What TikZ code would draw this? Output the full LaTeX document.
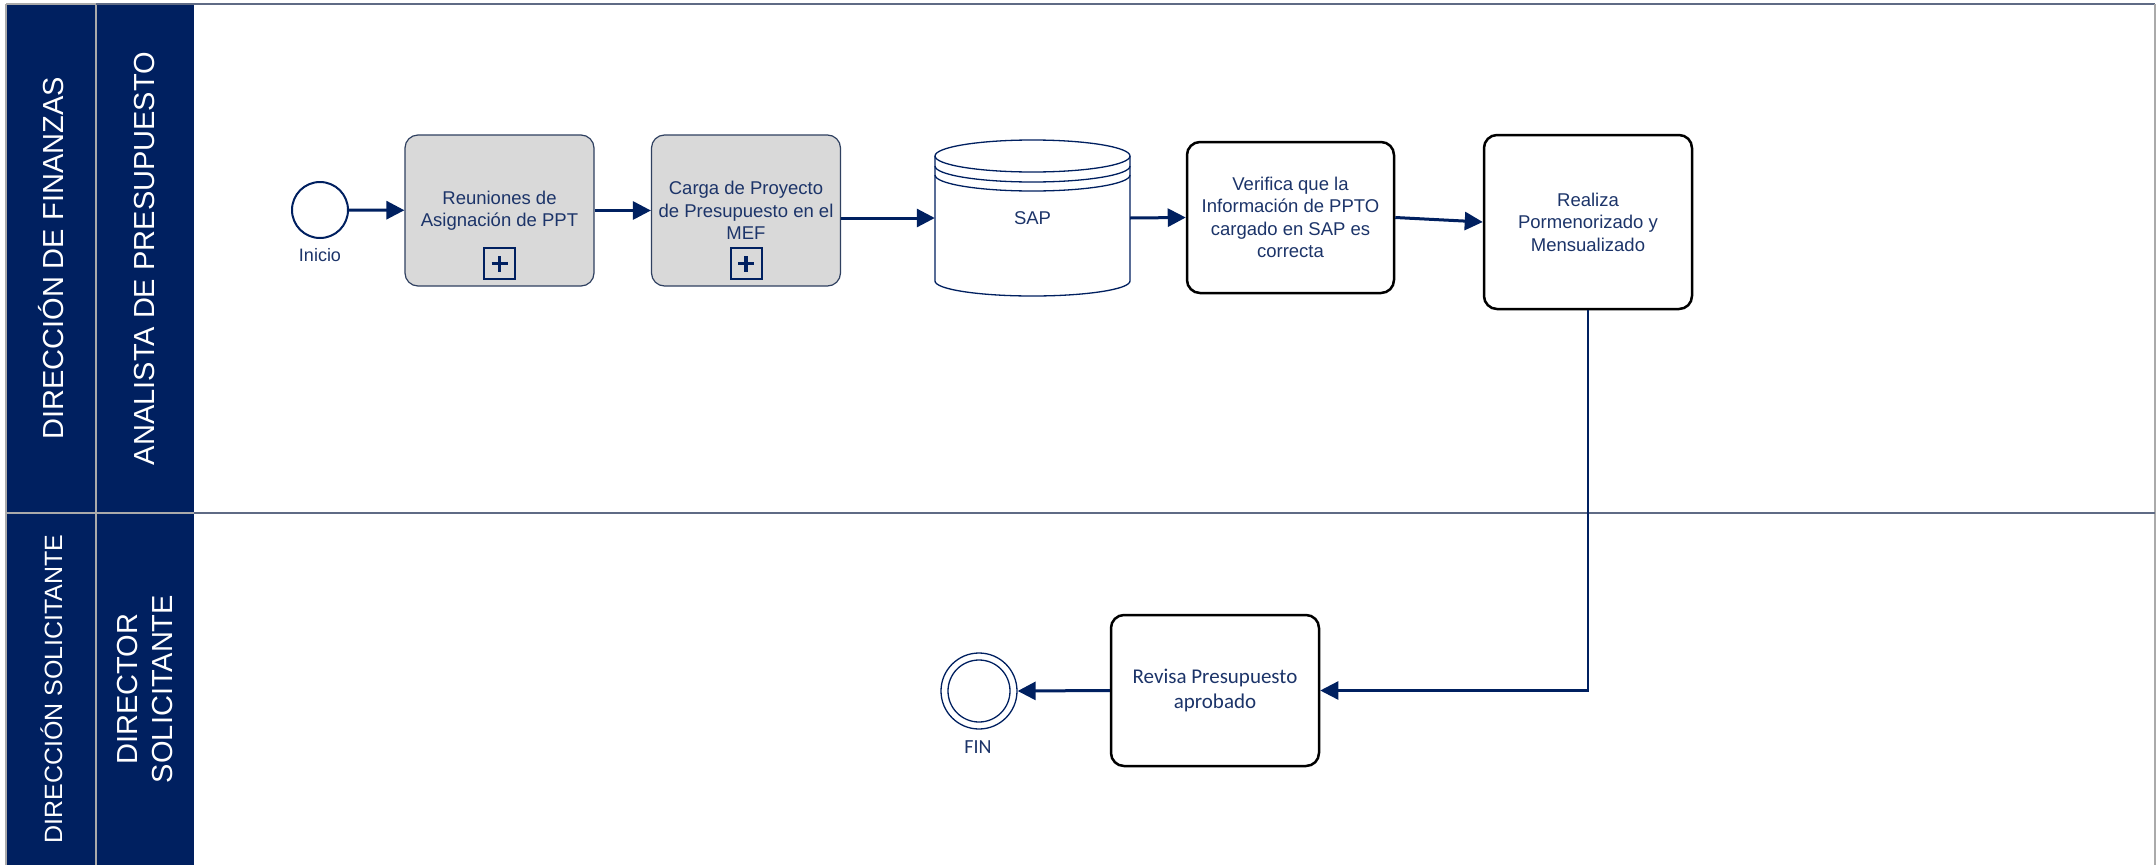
\documentclass[tikz,border=0pt]{standalone}
\usepackage{fontspec}
\setmainfont{Liberation Sans}
\newfontfamily\calib{Carlito}
\usetikzlibrary{arrows.meta}
\definecolor{navy}{RGB}{0,32,96}
\definecolor{txtblue}{RGB}{28,52,105}
\definecolor{boxgray}{RGB}{217,217,217}
\definecolor{graybord}{RGB}{47,64,96}
\definecolor{divline}{RGB}{95,107,133}
\definecolor{sepgray}{RGB}{170,170,170}
\tikzset{
  arr/.style={draw=navy, line width=3pt, -{Triangle[length=18pt,width=18pt]}},
  arrthin/.style={draw=navy, line width=2.4pt, -{Triangle[length=18pt,width=18pt]}},
  graybox/.style={draw=graybord, fill=boxgray, line width=1.2pt, rounded corners=13pt,
    minimum width=189pt, minimum height=151pt, inner sep=0pt, align=center,
    text=txtblue, font=\fontsize{18.5}{22.5}\selectfont},
  whitebox/.style={draw=black, fill=white, line width=2.5pt, rounded corners=13pt,
    inner sep=0pt, align=center, text=txtblue, font=\fontsize{18.5}{22.5}\selectfont},
  hdrtext/.style={rotate=90, text=white, align=center, inner sep=0pt},
  cyl/.style={draw=navy, line width=1.3pt},
  plusbox/.style={draw=navy, line width=2pt, minimum size=31pt, inner sep=0pt, fill=boxgray},
  lbl/.style={text=txtblue, inner sep=0pt}
}
\begin{document}
\begin{tikzpicture}[x=1pt,y=-1pt]
\useasboundingbox (0,0) rectangle (2156,865);
\fill[white] (0,0) rectangle (2156,865);
% lanes
\fill[navy] (7,4) rectangle (194,865);
\draw[sepgray, line width=1.5pt] (6,4) -- (6,865);
\draw[sepgray, line width=1.5pt] (6,4) -- (96,4);
\draw[sepgray, line width=1.5pt] (96,4) -- (96,865);
\draw[sepgray, line width=1.5pt] (7,513) -- (194,513);
\draw[divline, line width=1.2pt] (96,4) -- (2155,4);
\draw[sepgray, line width=1.5pt] (2155,4) -- (2155,865);
\draw[divline, line width=2pt] (194,513) -- (2155,513);
% lane headers
\node[hdrtext, font=\fontsize{29}{35}\selectfont] (h1) at (51.5,258.5) {DIRECCIÓN DE FINANZAS};
\node[hdrtext, font=\fontsize{29}{35}\selectfont] (h2) at (145,258.5) {ANALISTA DE PRESUPUESTO};
\node[hdrtext, font=\fontsize{25}{30}\selectfont] (h3) at (51.5,689) {DIRECCIÓN SOLICITANTE};
\node[hdrtext, font=\fontsize{29}{35}\selectfont] (h4) at (145,689) {DIRECTOR\\SOLICITANTE};
% start
\node[circle, draw=navy, line width=2pt, fill=white, minimum size=56pt, inner sep=0pt] (start) at (320,210) {};
\node[lbl, font=\fontsize{18}{22}\selectfont] (startlbl) at (320,255) {Inicio};
% subprocesses
\node[graybox] (r1) at (499.5,210.5) {Reuniones de\\Asignación de PPT};
\node[plusbox] (p1) at (499.5,263.5) {};
\draw[navy, line width=3.5pt] ([xshift=-8pt]p1.center) -- ([xshift=8pt]p1.center);
\draw[navy, line width=3.5pt] ([yshift=-8pt]p1.center) -- ([yshift=8pt]p1.center);
\node[graybox] (r2) at (746,210.5) {Carga de Proyecto\\de Presupuesto en el\\MEF};
\node[plusbox] (p2) at (746,263.5) {};
\draw[navy, line width=3.5pt] ([xshift=-8pt]p2.center) -- ([xshift=8pt]p2.center);
\draw[navy, line width=3.5pt] ([yshift=-8pt]p2.center) -- ([yshift=8pt]p2.center);
% SAP datastore
\draw[cyl] (935,156) -- (935,281) arc[start angle=180, end angle=360, x radius=97.5pt, y radius=15pt] -- (1130,156);
\draw[cyl] (1032.5,156) ellipse [x radius=97.5pt, y radius=16pt];
\draw[cyl] (935,166) arc[start angle=180, end angle=360, x radius=97.5pt, y radius=16pt];
\draw[cyl] (935,175) arc[start angle=180, end angle=360, x radius=97.5pt, y radius=16pt];
\node[minimum width=195pt, minimum height=156pt, inner sep=0pt, text=txtblue, font=\fontsize{18.5}{22.5}\selectfont] (sap) at (1032.5,218) {SAP};
% tasks
\node[whitebox, minimum width=207pt, minimum height=151pt] (ver) at (1290.5,217.5) {Verifica que la\\Información de PPTO\\cargado en SAP es\\correcta};
\node[whitebox, minimum width=208pt, minimum height=174pt] (real) at (1588,222) {Realiza\\Pormenorizado y\\Mensualizado};
\node[whitebox, minimum width=208pt, minimum height=151pt, font=\calib\fontsize{21}{24.5}\selectfont] (rev) at (1215,690.5) {Revisa Presupuesto\\aprobado};
% end
\node[circle, draw=navy, line width=1.3pt, fill=white, minimum size=76pt, inner sep=0pt] (fin) at (979,691) {};
\draw[navy, line width=1.3pt] (fin.center) circle (31pt);
\node[lbl, font=\calib\fontsize{20}{24}\selectfont] (finlbl) at (978,747) {FIN};
% connectors
\draw[arr] (start) -- (r1);
\draw[arr] (r1.east) -- (r2.west);
\draw[arr] (r2.east |- sap.west) -- (sap.west);
\draw[arr] (sap.east) -- (ver.west);
\draw[arr] (ver.east) -- (real.west);
\draw[arrthin] (real.south) |- (rev.east);
\draw[arr] (rev.west) -- (fin.east);
\end{tikzpicture}
\end{document}
